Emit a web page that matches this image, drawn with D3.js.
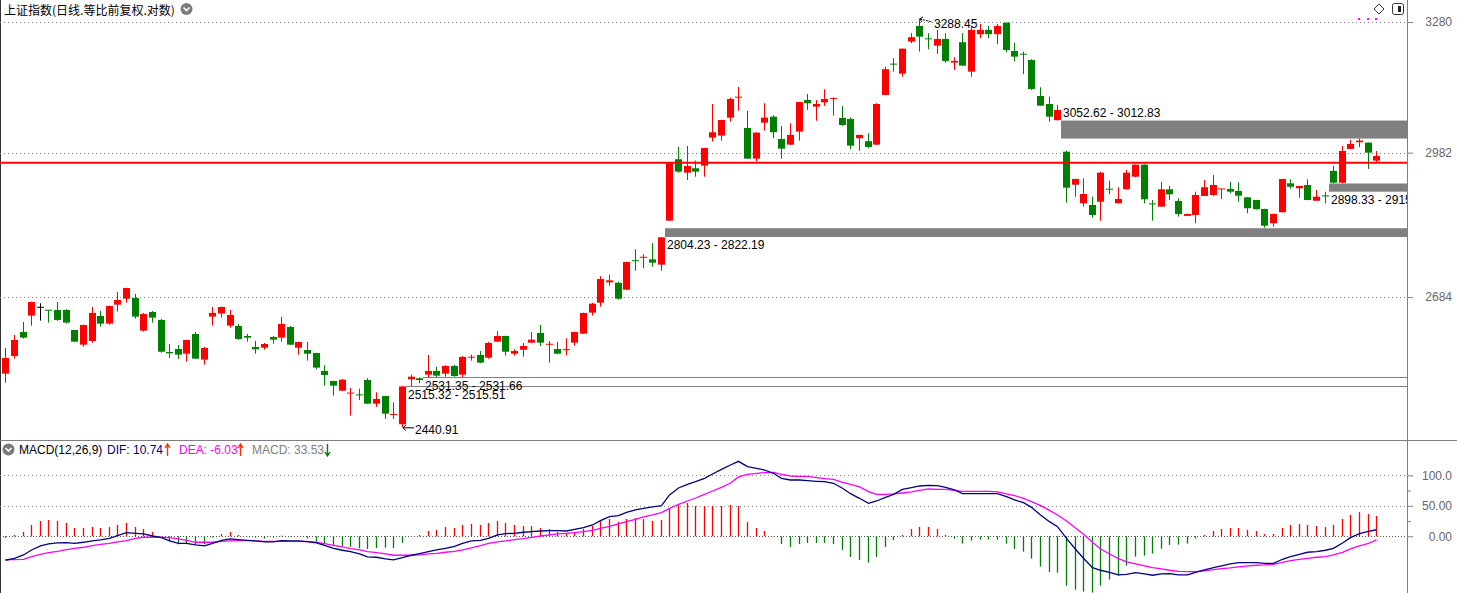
<!DOCTYPE html>
<html><head><meta charset="utf-8">
<script src="https://cdn.jsdelivr.net/npm/d3@7"></script>
<style>
html,body{margin:0;padding:0;background:#fff;overflow:hidden}
svg{display:block;font-family:"Liberation Sans",Arial,sans-serif}
</style></head><body>
<svg id="c" width="1457" height="593"></svg>
<script>
// ---------- DATA ----------
const days = d3.range(1, 161).map(d => "D" + d);
const openP = [2538.3,2571.2,2616.6,2648.0,2664.2,2658.4,2659.0,2659.0,2620.4,2592.5,
2599.5,2647.4,2632.6,2669.2,2680.8,2682.2,2619.1,2655.1,2639.7,2578.7,
2584.3,2575.5,2612.8,2564.4,2646.1,2651.9,2628.7,2628.0,2609.0,2588.1,
2586.8,2607.1,2605.8,2626.1,2586.8,2582.4,2576.8,2543.3,2524.8,2507.0,
2502.3,2499.3,2526.6,2483.4,2497.3,2463.6,2446.4,2527.9,2529.8,2536.5,
2543.3,2538.3,2552.6,2536.5,2568.6,2573.1,2568.1,2598.2,2609.0,2575.5,
2582.9,2596.3,2614.7,2593.0,2584.3,2582.8,2596.3,2613.4,2653.8,2673.1,
2713.0,2712.2,2698.5,2756.2,2762.6,2759.0,2748.2,2837.8,2967.7,2938.8,
2948.3,2953.9,3014.9,3019.3,3059.1,3104.7,3036.2,2969.0,3047.9,3061.3,
3012.0,2999.5,3028.1,3098.7,3083.7,3093.5,3101.6,3058.4,3056.1,3013.5,
3007.0,2999.5,3110.1,3180.8,3158.8,3233.4,3270.6,3239.9,3223.9,3239.8,
3184.3,3232.0,3163.4,3250.9,3261.1,3250.9,3278.4,3211.4,3203.9,3190.5,
3107.8,3089.7,3053.5,2984.1,2913.2,2873.9,2870.4,2877.3,2903.6,2873.9,
2903.4,2930.2,2956.1,2872.7,2866.9,2903.4,2878.7,2847.6,2849.6,2889.3,
2891.4,2903.8,2904.1,2899.8,2886.5,2880.8,2862.1,2832.4,2855.3,2916.1,
2905.5,2912.5,2879.3,2889.5,2942.7,2917.4,2990.0,3004.7,3003.9,2964.7];
const highP = [2586.2,2610.9,2635.8,2675.0,2671.9,2658.6,2674.4,2660.4,2620.6,2630.5,
2664.8,2657.1,2667.2,2694.0,2702.3,2690.1,2653.2,2657.1,2641.6,2593.8,
2591.9,2601.8,2616.6,2588.1,2664.8,2665.3,2659.0,2632.0,2612.8,2599.5,
2595.7,2609.0,2645.5,2628.0,2598.0,2597.6,2577.2,2553.9,2525.0,2528.5,
2512.0,2510.7,2529.8,2504.1,2497.8,2485.9,2515.32,2536.5,2531.35,2573.1,
2550.8,2553.9,2554.5,2571.2,2573.7,2580.5,2597.6,2618.5,2609.4,2584.3,
2595.7,2616.6,2630.0,2599.5,2597.6,2604.6,2617.0,2653.6,2673.1,2725.3,
2727.9,2714.2,2754.0,2779.1,2769.0,2791.4,2804.23,2959.5,2995.1,2996.6,
2964.7,2992.6,3089.7,3054.3,3104.0,3128.3,3074.1,3026.3,3091.3,3064.4,
3040.6,3046.5,3094.6,3112.4,3098.7,3123.0,3104.9,3085.3,3059.9,3021.2,
3024.5,3091.3,3175.0,3194.5,3217.2,3253.3,3288.45,3253.3,3261.1,3253.3,
3196.8,3253.3,3270.6,3275.3,3270.6,3275.3,3278.8,3231.0,3209.8,3192.1,
3127.6,3106.2,3087.5,2986.3,2925.7,2926.8,2887.8,2940.9,2921.6,2907.7,
2944.7,2956.5,2956.5,2880.8,2919.5,2910.4,2884.4,2852.1,2898.4,2923.1,
2933.9,2904.5,2919.5,2918.2,2886.9,2881.2,2862.5,2852.1,2925.7,2924.6,
2910.8,2924.6,2901.9,2898.33,2953.3,2996.6,3009.8,3012.5,3004.3,2985.6];
const lowP = [2521.7,2566.2,2603.9,2628.7,2638.3,2634.5,2637.8,2632.6,2597.8,2588.7,
2596.3,2626.8,2630.6,2655.7,2673.1,2642.2,2617.2,2634.5,2577.4,2567.5,
2565.7,2560.6,2565.8,2555.1,2628.7,2644.1,2624.8,2601.4,2598.2,2575.5,
2583.0,2594.4,2598.2,2592.0,2573.7,2562.5,2546.5,2516.2,2497.9,2506.5,
2461.8,2490.0,2483.0,2477.4,2455.9,2455.9,2440.91,2515.51,2520.6,2531.66,
2532.2,2532.7,2532.7,2532.2,2562.5,2557.7,2566.2,2597.8,2571.8,2571.8,
2569.9,2595.8,2590.0,2558.8,2575.0,2572.5,2590.6,2613.0,2648.0,2665.4,
2706.3,2678.9,2698.0,2736.2,2741.0,2744.2,2736.2,2837.5,2938.8,2923.1,
2930.2,2930.2,3006.1,3008.3,3050.1,3074.7,2968.6,2963.4,3030.3,3013.5,
2969.0,2999.0,3008.3,3076.3,3052.3,3085.3,3063.6,3040.6,2989.3,2986.3,
2991.5,2999.0,3109.7,3163.4,3151.8,3229.6,3209.8,3215.4,3204.4,3184.3,
3167.4,3177.0,3151.8,3241.4,3241.4,3227.2,3208.4,3187.0,3157.4,3121.5,
3085.5,3050.1,3052.62,2875.2,2887.8,2866.9,2844.0,2837.8,2892.8,2873.5,
2903.0,2928.9,2873.9,2837.8,2866.5,2880.8,2846.1,2847.2,2832.4,2888.9,
2889.3,2882.9,2895.0,2877.3,2853.2,2861.1,2823.3,2825.3,2854.9,2904.7,
2885.6,2880.4,2878.9,2873.9,2915.73,2916.2,2989.6,2993.7,2946.8,2960.5];
const closeP = [2567.5,2601.4,2605.8,2674.4,2664.2,2657.5,2639.7,2634.5,2598.2,2630.0,
2653.2,2632.6,2666.7,2678.3,2701.8,2646.1,2651.3,2644.1,2579.2,2576.3,
2573.7,2601.4,2566.2,2586.2,2653.2,2664.8,2649.3,2603.3,2605.8,2583.7,
2593.8,2602.0,2632.0,2592.5,2597.6,2575.5,2549.5,2535.9,2516.2,2527.2,
2502.6,2499.0,2483.4,2491.8,2465.4,2463.9,2514.8,2532.7,2526.6,2543.3,
2534.6,2552.6,2534.0,2569.4,2568.9,2558.8,2595.7,2609.0,2579.2,2580.5,
2590.0,2602.0,2596.3,2593.3,2575.5,2583.1,2616.6,2653.2,2671.2,2719.5,
2716.9,2680.8,2753.6,2755.8,2763.0,2752.2,2803.5,2959.1,2941.0,2953.3,
2941.0,2992.2,3026.7,3053.9,3101.0,3105.1,2969.0,3025.9,3059.1,3026.7,
2990.7,3020.8,3094.2,3091.3,3089.7,3101.0,3101.9,3042.8,2997.3,3020.8,
2994.4,3089.7,3169.0,3180.4,3216.8,3243.8,3245.2,3239.5,3239.8,3188.2,
3188.2,3177.3,3261.1,3261.1,3250.9,3270.6,3213.7,3198.2,3203.5,3123.7,
3085.9,3061.3,3076.3,2906.8,2925.3,2893.5,2849.6,2938.8,2903.2,2882.9,
2938.8,2956.1,2882.3,2872.3,2903.4,2892.8,2851.7,2851.7,2891.4,2907.7,
2912.5,2904.1,2898.4,2889.9,2863.6,2861.5,2827.4,2851.7,2925.3,2908.9,
2910.4,2880.8,2887.8,2889.1,2917.4,2985.6,3001.0,3008.3,2982.0,2974.9];

const dif = [-39.3,-36.1,-30.6,-22.4,-15.8,-12.6,-10.9,-10.4,-11.5,-9.8,
-7.6,-6.0,-3.3,1.1,6.0,4.9,3.8,0.5,-2.2,-7.6,
-11.5,-11.5,-14.2,-15.8,-11.5,-6.6,-4.4,-5.5,-6.6,-7.6,
-9.3,-9.3,-7.1,-7.6,-7.6,-8.7,-10.9,-14.8,-19.7,-22.9,
-25.1,-29.0,-33.9,-34.4,-37.2,-38.8,-35.0,-31.1,-28.4,-25.1,
-22.4,-19.7,-16.4,-11.5,-7.6,-6.6,-3.3,2.2,4.4,4.9,
6.6,7.6,8.7,9.3,9.3,8.7,11.5,14.2,18.6,25.7,
32.2,33.9,39.3,43.2,45.9,48.1,50.3,67.8,79.2,85.2,
89.6,95.1,102.2,109.8,116.9,122.9,114.2,111.5,108.7,103.3,
95.1,92.3,92.3,91.2,90.2,89.6,86.9,78.7,69.9,62.3,
54.1,57.9,63.9,68.8,77.0,79.8,82.5,83.6,83.1,80.3,
76.0,69.9,69.9,69.9,69.9,69.9,65.0,59.6,55.2,47.5,
35.0,24.0,15.8,-3.3,-21.3,-36.1,-51.4,-55.7,-59.0,-63.4,
-62.3,-59.6,-61.7,-63.9,-61.7,-61.2,-63.4,-63.4,-59.0,-55.2,
-51.4,-48.6,-45.4,-43.2,-43.2,-43.2,-44.3,-44.3,-37.7,-33.3,
-29.5,-26.2,-25.1,-22.9,-19.7,-10.9,-2.2,4.4,8.2,10.74];
const dea = [-38.2,-38.2,-37.7,-33.3,-29.5,-26.8,-24.6,-21.9,-19.7,-18.0,
-15.3,-13.1,-11.5,-9.3,-7.1,-3.3,-1.6,-1.6,-1.6,-2.2,
-4.4,-6.6,-9.8,-9.8,-9.8,-8.2,-7.6,-7.1,-7.1,-7.6,
-8.2,-8.2,-8.2,-8.2,-8.2,-8.7,-9.8,-12.0,-14.8,-17.5,
-20.2,-22.4,-25.1,-26.8,-29.0,-31.1,-31.1,-31.1,-30.6,-29.0,
-27.9,-26.2,-24.6,-22.4,-19.1,-15.3,-11.5,-9.3,-7.6,-5.5,
-3.8,-1.6,0.5,2.2,3.8,4.9,6.0,7.6,9.8,13.1,
16.4,20.2,24.0,27.9,31.7,35.0,38.8,45.9,52.5,57.9,
62.8,68.8,74.3,80.3,87.4,97.3,101.6,103.3,104.4,104.9,
101.6,98.9,98.4,98.4,96.2,94.5,93.4,88.5,85.2,80.9,
73.2,68.8,68.8,69.4,71.0,72.7,75.4,77.6,77.0,77.0,
75.4,73.8,73.8,73.8,73.8,72.7,69.4,66.7,62.3,56.8,
50.3,42.6,35.0,25.1,13.7,3.3,-9.8,-20.8,-29.0,-36.6,
-42.1,-45.4,-48.6,-51.4,-53.6,-55.7,-57.4,-57.9,-57.9,-56.8,
-54.6,-53.0,-51.9,-50.3,-48.6,-47.5,-47.0,-45.9,-42.6,-39.9,
-37.7,-36.1,-34.4,-33.3,-30.6,-26.2,-20.8,-15.8,-11.5,-6.03];
const macd = [-2.7,2.2,7.1,18.6,25.1,26.8,25.1,21.9,13.7,13.7,
15.3,13.7,15.3,18.6,21.9,15.3,12.0,7.1,0.6,-7.7,
-13.1,-11.5,-13.1,-13.1,-2.2,3.8,7.1,2.2,0.4,-2.2,
-3.8,-2.2,1.1,-0.4,0.3,-3.3,-8.7,-13.1,-16.4,-15.8,
-17.5,-19.7,-20.8,-19.1,-18.6,-19.1,-10.9,-0.5,2.2,8.7,
10.4,15.3,13.7,18.6,20.2,18.6,21.9,25.1,21.9,18.6,
16.9,16.9,13.7,12.0,7.1,5.5,7.1,12.0,16.9,25.1,
28.4,23.5,28.4,30.1,28.4,25.1,26.8,46.4,53.0,54.6,
49.7,49.7,49.7,49.7,51.4,49.7,23.5,13.7,8.7,0.5,
-12.6,-17.5,-12.6,-10.9,-10.9,-10.9,-12.6,-22.4,-33.9,-38.8,
-43.2,-33.9,-17.5,-6.0,2.2,12.0,15.3,15.3,12.0,2.2,
-3.8,-12.0,-7.1,-5.5,-5.5,-5.5,-12.0,-20.8,-25.1,-36.6,
-49.7,-58.5,-59.6,-80.9,-87.4,-90.7,-92.3,-80.9,-71.0,-64.5,
-48.1,-33.3,-31.7,-28.4,-20.2,-14.2,-13.7,-12.0,-3.8,2.2,
8.7,12.0,13.7,13.7,10.4,8.7,3.8,3.8,13.7,18.6,
20.2,18.6,16.9,15.3,18.6,28.4,35.0,39.9,36.6,33.53];

const priceTicks = [3280, 2982, 2684];
const macdTicks = [100, 50, 0];
const macdTickLabels = ["100.0", "50.00", "0.00"];
const macdMinorTicks = [75, 25];
const refLine = 2960.3;
// price gaps: [from, to], drawn from the right edge of candle gapAfter (1-based)
const gapFrom = [2515.32, 2531.35, 2804.23, 3052.62, 2898.33];
const gapTo   = [2515.51, 2531.66, 2822.19, 3012.83, 2915.73];
const gapAfter = [47, 49, 77, 123, 154];
const titleText = "上证指数(日线.等比前复权.对数)";

// ---------- LAYOUT ----------
const W = 1457, H = 593, axisX = 1407, sepY = 440;
const svg = d3.select("#c");
const RED = "#ff0000", GREEN = "#008000";

const x = d3.scaleBand().domain(days).range([1.0, 1.0 + 160 * 8.623]).padding(0);
const cx = i => Math.round(x(days[i]) + x.bandwidth() / 2);
const y = d3.scaleLog().domain([2422, 3333]).range([438, 0]);
const ym = d3.scaleLinear().domain([-93, 128.4]).range([593, 458]);

const defs = svg.append("defs");
defs.append("clipPath").attr("id", "cm").append("rect").attr("x", 0).attr("y", 0).attr("width", axisX).attr("height", sepY);
defs.append("clipPath").attr("id", "cs").append("rect").attr("x", 0).attr("y", 458).attr("width", axisX).attr("height", H - 458);

// frame
svg.append("rect").attr("x", 0).attr("y", 0).attr("width", 1).attr("height", H).attr("fill", "#333");
svg.append("line").attr("x1", axisX + 0.5).attr("x2", axisX + 0.5).attr("y1", 0).attr("y2", H).attr("stroke", "#808080");
svg.append("line").attr("x1", 0).attr("x2", W).attr("y1", sepY + 0.5).attr("y2", sepY + 0.5).attr("stroke", "#808080");

// ---------- MAIN PANEL ----------
const gm = svg.append("g").attr("clip-path", "url(#cm)");
gm.selectAll("line.grid").data(priceTicks).join("line")
  .attr("x1", 0).attr("x2", axisX).attr("y1", d => Math.round(y(d)) + 0.5).attr("y2", d => Math.round(y(d)) + 0.5)
  .attr("stroke", "#808080").attr("stroke-dasharray", "1,3");

// gaps
gapFrom.forEach((f, k) => {
  const t = gapTo[k];
  const x0 = cx(gapAfter[k] - 1) + 4;
  const yTop = Math.min(y(f), y(t)), yBot = Math.max(y(f), y(t));
  const h = yBot - yTop;
  gm.append("rect").attr("x", x0).attr("y", h < 1 ? Math.round(yTop) : yTop)
    .attr("width", axisX - x0).attr("height", Math.max(1, h)).attr("fill", "#808080");
  const above = f > t;
  gm.append("text").attr("x", x0 + 2)
    .attr("y", above ? yTop - 8 : yBot + 8.5)
    .attr("dominant-baseline", "central").attr("font-size", 12).attr("fill", "#000")
    .text(f.toFixed(2) + " - " + t.toFixed(2));
});

// candles
const candles = gm.append("g");
days.forEach((d, i) => {
  const o = openP[i], c = closeP[i];
  const col = c > o ? RED : (c < o ? GREEN : "#000");
  const xc = cx(i);
  candles.append("line").attr("x1", xc + 0.5).attr("x2", xc + 0.5)
    .attr("y1", y(highP[i])).attr("y2", y(lowP[i])).attr("stroke", col).attr("stroke-width", 1);
  const t = y(Math.max(o, c)), b = y(Math.min(o, c));
  candles.append("rect").attr("x", xc - 3).attr("width", 7)
    .attr("y", b - t < 1 ? t - 0.5 : t).attr("height", Math.max(1, b - t)).attr("fill", col);
});

// reference line
gm.append("line").attr("x1", 0).attr("x2", axisX).attr("y1", y(refLine)).attr("y2", y(refLine))
  .attr("stroke", RED).attr("stroke-width", 2);

// high / low labels
const hi = d3.maxIndex(highP), lo = d3.minIndex(lowP);
{
  const xh = cx(hi), yh = y(highP[hi]);
  gm.append("path").attr("d", `M${xh + 1},${yh + 0.5} L${xh + 13},${yh + 3.5}`)
    .attr("stroke", "#000").attr("stroke-dasharray", "2,1").attr("fill", "none");
  gm.append("path").attr("d", `M${xh + 4},${yh - 1.5} L${xh + 1},${yh + 0.5} L${xh + 3},${yh + 3.5}`)
    .attr("stroke", "#000").attr("fill", "none");
  gm.append("text").attr("x", xh + 15).attr("y", yh + 6).attr("dominant-baseline", "central")
    .attr("font-size", 12).attr("fill", "#000").text(highP[hi].toFixed(2));
  const xl = cx(lo), yl = y(lowP[lo]);
  gm.append("path").attr("d", `M${xl + 1},${yl + 0.5} L${xl + 12},${yl + 0.5} M${xl + 4},${yl - 2.5} L${xl + 1},${yl + 0.5} L${xl + 4},${yl + 3.5}`)
    .attr("stroke", "#000").attr("fill", "none");
  gm.append("text").attr("x", xl + 13).attr("y", yl + 2.5).attr("dominant-baseline", "central")
    .attr("font-size", 12).attr("fill", "#000").text(lowP[lo].toFixed(2));
}

// price axis
const ax = svg.append("g").attr("transform", `translate(${axisX},0)`)
  .call(d3.axisRight(y).tickValues(priceTicks).tickSize(6).tickFormat(d3.format("d")));
ax.select(".domain").remove();
ax.selectAll(".tick line").attr("stroke", "#808080");
ax.selectAll(".tick text").attr("x", 45).attr("text-anchor", "end").attr("fill", "#666")
  .attr("font-size", 12).attr("font-family", "Liberation Sans, Arial, sans-serif");

// title
svg.append("text").attr("x", 4).attr("y", 9).attr("dominant-baseline", "central")
  .attr("font-family", "Noto Sans CJK SC, sans-serif").attr("font-size", 12).attr("fill", "#000").text(titleText);
function chevronIcon(px, py) {
  svg.append("circle").attr("cx", px).attr("cy", py).attr("r", 6).attr("fill", "#7a7a7a");
  svg.append("path").attr("d", `M${px - 3},${py - 1.5} L${px},${py + 1.5} L${px + 3},${py - 1.5}`)
    .attr("stroke", "#fff").attr("stroke-width", 1.7).attr("fill", "none");
}
chevronIcon(186.5, 9);

// top-right icons
svg.append("path").attr("d", "M1379,4 L1384,9 L1379,14 L1374,9 Z").attr("fill", "none").attr("stroke", "#333");
svg.append("rect").attr("x", 1392.5).attr("y", 3.5).attr("width", 11).attr("height", 11).attr("rx", 2)
  .attr("fill", "#fff").attr("stroke", "#333");
svg.append("rect").attr("x", 1398).attr("y", 6).attr("width", 3).attr("height", 6).attr("fill", "#222");
[1358, 1367, 1375].forEach(px => svg.append("rect").attr("x", px).attr("y", 18).attr("width", 2).attr("height", 2).attr("fill", "#ff00ff"));

// ---------- MACD PANEL ----------
const gs = svg.append("g").attr("clip-path", "url(#cs)");
gs.selectAll("line.mg").data(macdTicks).join("line")
  .attr("x1", 0).attr("x2", axisX).attr("y1", d => Math.round(ym(d)) + 0.5).attr("y2", d => Math.round(ym(d)) + 0.5)
  .attr("stroke", d => d === 0 ? "#555" : "#808080").attr("stroke-dasharray", d => d === 0 ? "1,2" : "1,3");

gs.selectAll("line.bar").data(macd).join("line")
  .attr("x1", (d, i) => cx(i) + 0.5).attr("x2", (d, i) => cx(i) + 0.5)
  .attr("y1", ym(0)).attr("y2", d => ym(d))
  .attr("stroke", d => d >= 0 ? RED : GREEN).attr("stroke-width", 1.3);

const ln = d3.line().x((d, i) => cx(i) + 0.5).y(d => ym(d));
gs.append("path").datum(dea).attr("d", ln).attr("fill", "none").attr("stroke", "#ff00ff").attr("stroke-width", 1.3);
gs.append("path").datum(dif).attr("d", ln).attr("fill", "none").attr("stroke", "#000080").attr("stroke-width", 1.3);

const axm = svg.append("g").attr("transform", `translate(${axisX},0)`)
  .call(d3.axisRight(ym).tickValues(macdTicks).tickSize(6).tickFormat((d, i) => macdTickLabels[i]));
axm.select(".domain").remove();
axm.selectAll(".tick line").attr("stroke", "#808080");
axm.selectAll(".tick text").attr("x", 45).attr("text-anchor", "end").attr("fill", "#666")
  .attr("font-size", 12).attr("font-family", "Liberation Sans, Arial, sans-serif");
const axm2 = svg.append("g").attr("transform", `translate(${axisX},0)`)
  .call(d3.axisRight(ym).tickValues(macdMinorTicks).tickSize(4).tickFormat(""));
axm2.select(".domain").remove();
axm2.selectAll(".tick line").attr("stroke", "#808080");

// MACD header
chevronIcon(8.5, 449.5);
const hdr = [
  {x: 19, t: "MACD(12,26,9)", c: "#000"},
  {x: 107, t: "DIF: " + dif[dif.length - 1].toFixed(2), c: "#000080"},
  {x: 179, t: "DEA: " + dea[dea.length - 1].toFixed(2), c: "#ff00ff"},
  {x: 252, t: "MACD: " + macd[macd.length - 1].toFixed(2), c: "#808080"}
];
hdr.forEach(h => svg.append("text").attr("x", h.x).attr("y", 450).attr("dominant-baseline", "central")
  .attr("font-size", 12).attr("fill", h.c).text(h.t));
// trend arrows
function arrow(px, up, col) {
  const t = 444, b = 456;
  const d = up ? `M${px},${b} L${px},${t + 1} M${px - 2.5},${t + 4} L${px},${t} L${px + 2.5},${t + 4}`
               : `M${px},${t} L${px},${b - 1} M${px - 2.5},${b - 4} L${px},${b} L${px + 2.5},${b - 4}`;
  svg.append("path").attr("d", d).attr("stroke", col).attr("stroke-width", 1.4).attr("fill", "none");
}
arrow(167.5, true, "#ff3000");
arrow(240.5, true, "#ff3000");
arrow(327.5, false, GREEN);
</script>
</body></html>
